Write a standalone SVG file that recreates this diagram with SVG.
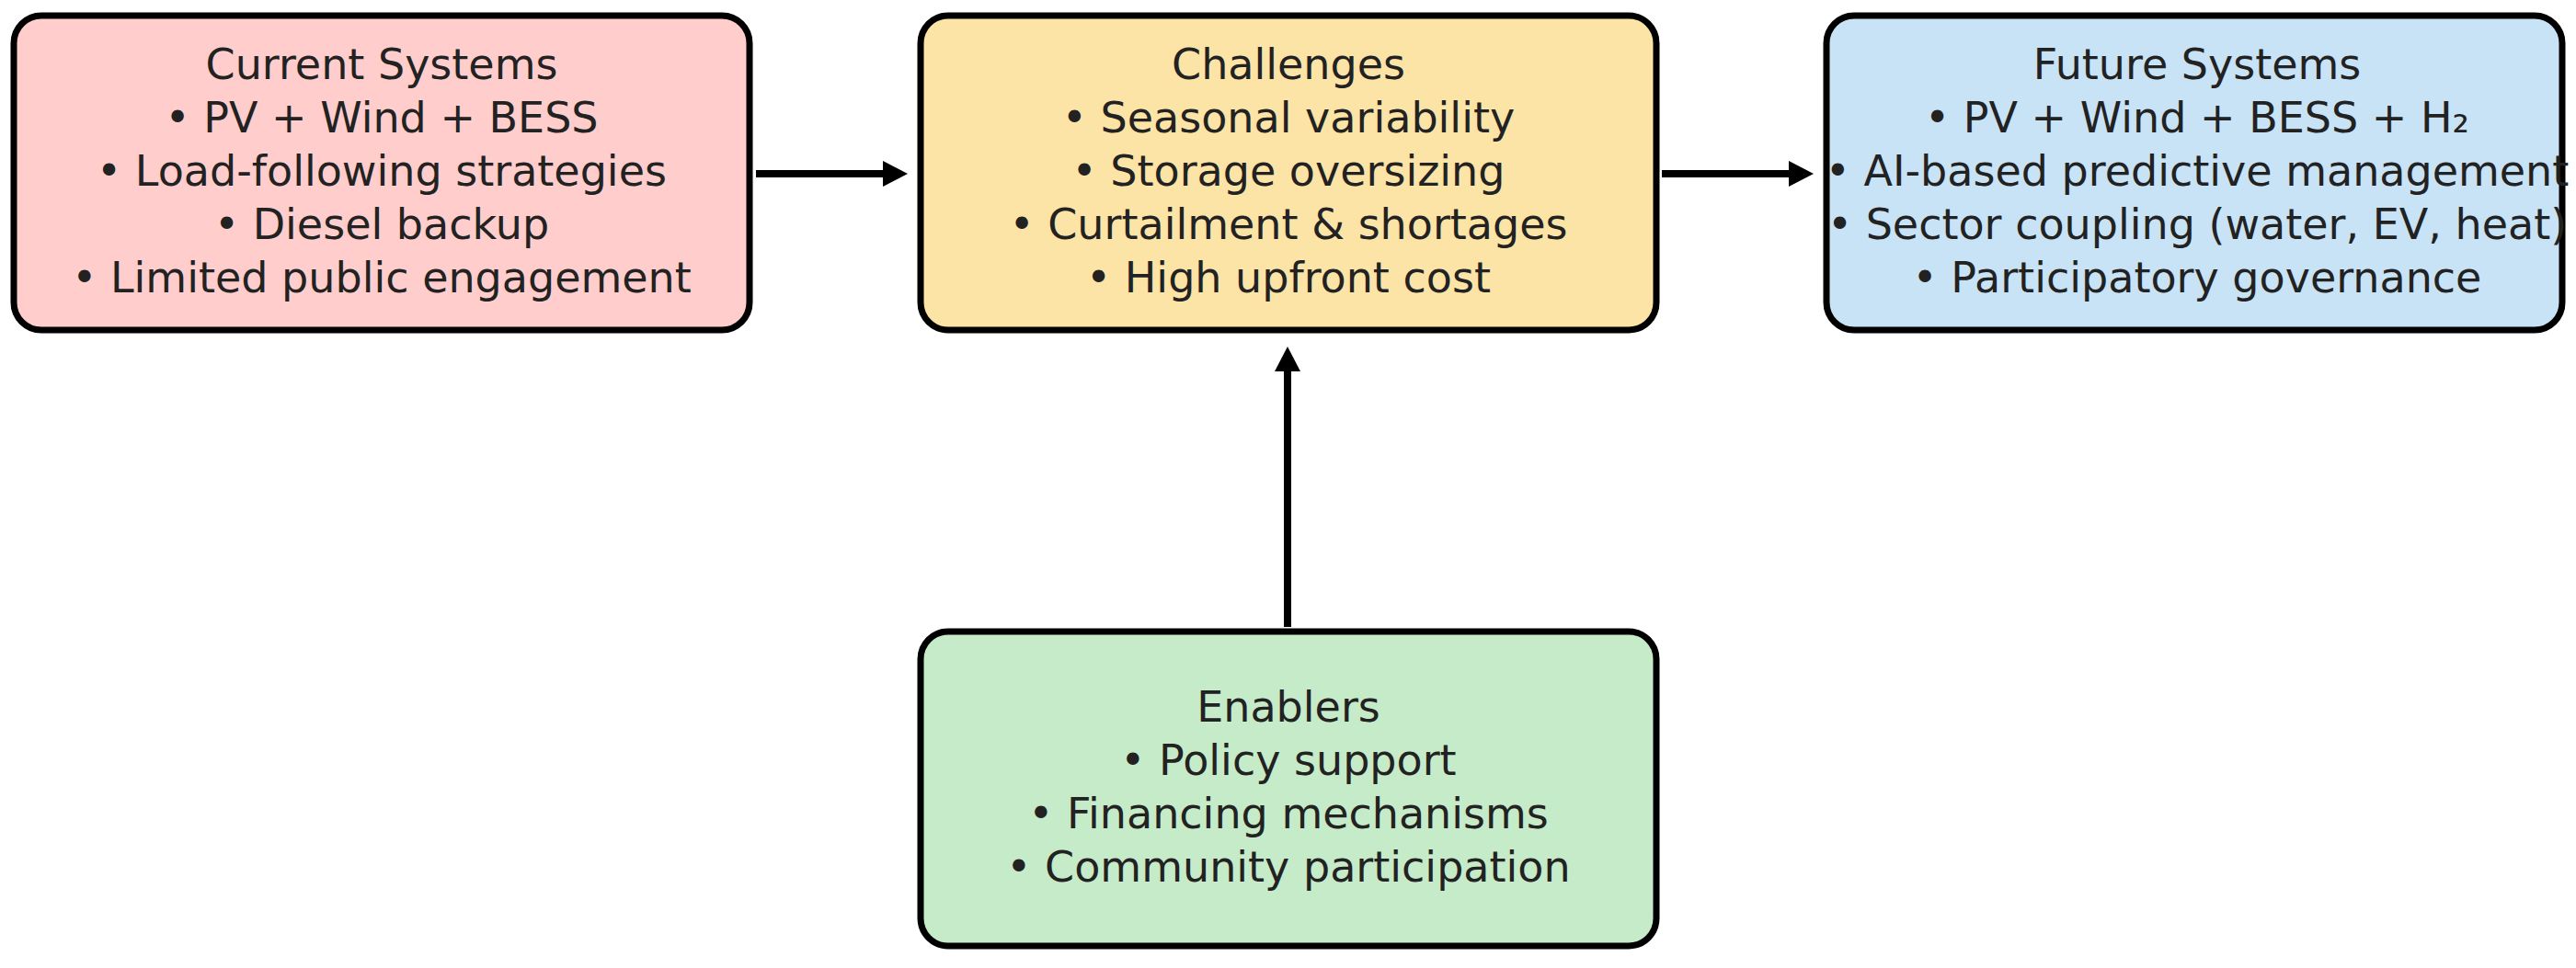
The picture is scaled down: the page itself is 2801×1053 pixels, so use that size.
<svg xmlns="http://www.w3.org/2000/svg" width="2801" height="1053" viewBox="0 0 2801 1053">
  <style>
    .box { stroke: #000; stroke-width: 7; }
    .lbl { font-family: "DejaVu Sans", "Liberation Sans", sans-serif; font-size: 46px; fill: #222; text-anchor: middle; }
    .conn { stroke: #000; stroke-width: 8; fill: none; }
  </style>
  <defs>
    <marker id="arr" markerUnits="userSpaceOnUse" markerWidth="28" markerHeight="30" viewBox="0 0 28 30" refX="7" refY="15" orient="auto">
      <path d="M0,1 L27,15 L0,29 z" fill="#000"/>
    </marker>
  </defs>
  <rect width="2801" height="1053" fill="#fff"/>

  <g id="connectors">
    <line class="conn" x1="822" y1="189" x2="967" y2="189" marker-end="url(#arr)"/>
    <line class="conn" x1="1807" y1="189" x2="1952" y2="189" marker-end="url(#arr)"/>
    <line class="conn" x1="1400" y1="682" x2="1400" y2="397" marker-end="url(#arr)"/>
  </g>

  <g id="current">
    <rect class="box" x="15" y="17" width="800" height="342" rx="30" fill="#ffcdcb"/>
    <text class="lbl" x="415" y="86">Current Systems</text>
    <text class="lbl" x="415" y="144">• PV + Wind + BESS</text>
    <text class="lbl" x="415" y="202">• Load-following strategies</text>
    <text class="lbl" x="415" y="260">• Diesel backup</text>
    <text class="lbl" x="415" y="318">• Limited public engagement</text>
  </g>

  <g id="challenges">
    <rect class="box" x="1001" y="17" width="800" height="342" rx="30" fill="#fce3a6"/>
    <text class="lbl" x="1401" y="86">Challenges</text>
    <text class="lbl" x="1401" y="144">• Seasonal variability</text>
    <text class="lbl" x="1401" y="202">• Storage oversizing</text>
    <text class="lbl" x="1401" y="260">• Curtailment &amp; shortages</text>
    <text class="lbl" x="1401" y="318">• High upfront cost</text>
  </g>

  <g id="future">
    <rect class="box" x="1986" y="17" width="800" height="342" rx="30" fill="#c8e3f6"/>
    <text class="lbl" x="2389" y="86">Future Systems</text>
    <text class="lbl" x="2389" y="144">• PV + Wind + BESS + H₂</text>
    <text class="lbl" x="2389" y="202">• AI-based predictive management</text>
    <text class="lbl" x="2389" y="260">• Sector coupling (water, EV, heat)</text>
    <text class="lbl" x="2389" y="318">• Participatory governance</text>
  </g>

  <g id="enablers">
    <rect class="box" x="1001" y="687" width="800" height="342" rx="30" fill="#c6ebc8"/>
    <text class="lbl" x="1401" y="785">Enablers</text>
    <text class="lbl" x="1401" y="843">• Policy support</text>
    <text class="lbl" x="1401" y="901">• Financing mechanisms</text>
    <text class="lbl" x="1401" y="959">• Community participation</text>
  </g>
</svg>
